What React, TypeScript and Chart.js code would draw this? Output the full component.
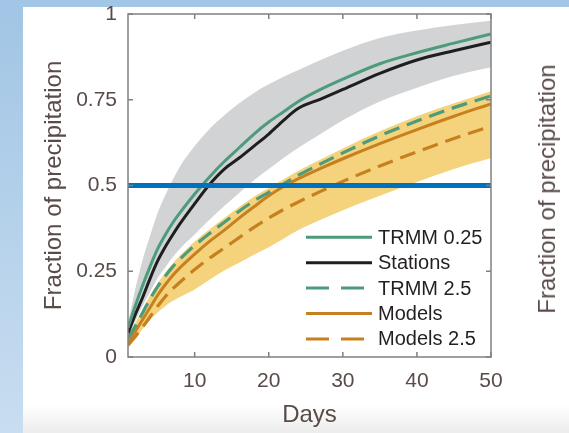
import { useEffect, useRef } from "react";
import { Chart, registerables } from "chart.js";

Chart.register(...registerables);

// ---- data ----
const days = [1, 2, 3, 4, 5, 6, 7, 8, 10, 12, 14, 16, 18, 20, 22, 24, 27, 30, 35, 40, 45, 50];

const trmm025 = [0.085, 0.15, 0.21, 0.265, 0.315, 0.355, 0.39, 0.42, 0.475, 0.525, 0.57, 0.61, 0.65, 0.685, 0.715, 0.745, 0.78, 0.81, 0.855, 0.887, 0.915, 0.942];
const stations = [0.07, 0.125, 0.175, 0.23, 0.28, 0.32, 0.355, 0.388, 0.447, 0.503, 0.548, 0.58, 0.615, 0.65, 0.69, 0.725, 0.752, 0.78, 0.827, 0.866, 0.893, 0.918];
const trmm25 = [0.055, 0.09, 0.13, 0.17, 0.205, 0.235, 0.262, 0.285, 0.325, 0.36, 0.393, 0.425, 0.455, 0.48, 0.505, 0.53, 0.563, 0.595, 0.645, 0.688, 0.727, 0.761];
const models = [0.04, 0.075, 0.11, 0.145, 0.18, 0.21, 0.237, 0.26, 0.3, 0.337, 0.37, 0.405, 0.438, 0.47, 0.497, 0.52, 0.55, 0.578, 0.622, 0.663, 0.702, 0.738];
const models25 = [0.035, 0.06, 0.088, 0.118, 0.148, 0.175, 0.198, 0.218, 0.255, 0.288, 0.318, 0.348, 0.378, 0.405, 0.43, 0.452, 0.483, 0.512, 0.557, 0.598, 0.637, 0.673];

const grayUpper = [0.1, 0.2, 0.285, 0.355, 0.42, 0.47, 0.515, 0.555, 0.615, 0.665, 0.705, 0.74, 0.77, 0.795, 0.817, 0.837, 0.866, 0.893, 0.93, 0.952, 0.968, 0.98];
const grayLower = [0.06, 0.105, 0.15, 0.19, 0.23, 0.26, 0.29, 0.315, 0.357, 0.4, 0.44, 0.478, 0.515, 0.548, 0.58, 0.61, 0.65, 0.69, 0.745, 0.785, 0.82, 0.845];
const yellowUpper = [0.065, 0.1, 0.14, 0.18, 0.215, 0.245, 0.272, 0.296, 0.337, 0.372, 0.405, 0.437, 0.467, 0.493, 0.518, 0.543, 0.576, 0.608, 0.658, 0.702, 0.74, 0.775];
const yellowLower = [0.025, 0.055, 0.082, 0.108, 0.13, 0.148, 0.163, 0.175, 0.197, 0.225, 0.252, 0.275, 0.298, 0.32, 0.345, 0.37, 0.4, 0.428, 0.47, 0.51, 0.548, 0.58];

const thresholdDays = [1, 50];
const thresholdValues = [0.5, 0.5];

const xTickValues = [10, 20, 30, 40, 50];
const yTickValues = [0, 0.25, 0.5, 0.75, 1];
const yTickLabels = ["0", "0.25", "0.5", "0.75", "1"];

const legendLabels = ["TRMM 0.25", "Stations", "TRMM 2.5", "Models", "Models 2.5"];

const xTitle = "Days";
const yTitle = "Fraction of precipitation";

// ---- styles ----
const GREEN = "#4e9b7c";
const BLACK = "#1e1d20";
const ORANGE = "#c7801f";
const YELLOW_FILL = "#f5d37c";
const GRAY_FILL = "#d1d3d5";
const BLUE = "#0072bd";
const TEXT = "#594b48";
const AXIS = "#808080";
const FONT = "'Liberation Sans', Arial, Helvetica, sans-serif";

const legendStyles = [
  { color: GREEN, dash: [] as number[] },
  { color: BLACK, dash: [] as number[] },
  { color: GREEN, dash: [23, 12] },
  { color: ORANGE, dash: [] as number[] },
  { color: ORANGE, dash: [23, 12] },
];

const pts = (ys: number[]) => days.map((d, i) => ({ x: d, y: ys[i] }));

const boxPlugin = {
  id: "boxAndTicks",
  afterDraw(chart: any) {
    const { ctx, chartArea } = chart;
    const { left, right, top, bottom } = chartArea;
    const xs = chart.scales.x;
    const ys = chart.scales.y;
    ctx.save();
    ctx.strokeStyle = AXIS;
    ctx.lineWidth = 1.5;
    ctx.setLineDash([]);
    ctx.strokeRect(left, top, right - left, bottom - top);
    const tl = 5;
    ctx.beginPath();
    xTickValues.forEach((v) => {
      const px = xs.getPixelForValue(v);
      ctx.moveTo(px, bottom);
      ctx.lineTo(px, bottom - tl);
      ctx.moveTo(px, top);
      ctx.lineTo(px, top + tl);
    });
    yTickValues.forEach((v) => {
      const py = ys.getPixelForValue(v);
      ctx.moveTo(left, py);
      ctx.lineTo(left + tl, py);
      ctx.moveTo(right, py);
      ctx.lineTo(right - tl, py);
    });
    ctx.stroke();

    // legend
    const lineStart = right - 185;
    const lineEnd = right - 119;
    const dashEnd = right - 127;
    const textX = right - 113;
    const firstY = bottom - 119.7;
    const rowH = 25.4;
    ctx.font = `20px ${FONT}`;
    ctx.textBaseline = "middle";
    ctx.textAlign = "left";
    legendLabels.forEach((label, i) => {
      const y = firstY + i * rowH;
      const st = legendStyles[i];
      ctx.beginPath();
      ctx.strokeStyle = st.color;
      ctx.lineWidth = 3;
      ctx.setLineDash(st.dash);
      ctx.moveTo(lineStart, y);
      ctx.lineTo(st.dash.length ? dashEnd : lineEnd, y);
      ctx.stroke();
      ctx.setLineDash([]);
      ctx.fillStyle = "#231f20";
      ctx.fillText(label, textX, y + 1);
    });
    ctx.restore();
  },
};

export default function App() {
  const ref = useRef<HTMLCanvasElement>(null);

  useEffect(() => {
    document.body.style.margin = "0";
    const canvas = ref.current;
    if (!canvas) return;
    const line = (data: any[], color: string, dash: number[], width: number, order: number, extra: any = {}) => ({
      data,
      borderColor: color,
      backgroundColor: color,
      borderWidth: width,
      borderDash: dash,
      pointRadius: 0,
      fill: false,
      cubicInterpolationMode: "monotone",
      order,
      ...extra,
    });
    const chart = new Chart(canvas, {
      type: "line",
      data: {
        datasets: [
          line(pts(grayUpper), "rgba(0,0,0,0)", [], 0, 20, { fill: "+1", backgroundColor: GRAY_FILL }),
          line(pts(grayLower), "rgba(0,0,0,0)", [], 0, 21),
          line(pts(yellowUpper), "rgba(0,0,0,0)", [], 0, 22, { fill: "+1", backgroundColor: YELLOW_FILL }),
          line(pts(yellowLower), "rgba(0,0,0,0)", [], 0, 23),
          line(thresholdDays.map((d, i) => ({ x: d, y: thresholdValues[i] })), BLUE, [], 5, 0, { cubicInterpolationMode: "default" }),
          line(pts(trmm025), GREEN, [], 3, 2),
          line(pts(stations), BLACK, [], 3, 3),
          line(pts(trmm25), GREEN, [16, 8], 3.2, 4),
          line(pts(models), ORANGE, [], 3, 5),
          line(pts(models25), ORANGE, [16, 8], 3.2, 6),
        ],
      },
      options: {
        responsive: false,
        animation: false,
        devicePixelRatio: 1,
        layout: { padding: { left: 0, right: 78, top: 14, bottom: 0 } },
        plugins: { legend: { display: false }, tooltip: { enabled: false } },
        scales: {
          x: {
            type: "linear",
            min: 1,
            max: 50,
            grid: { display: false, drawTicks: false },
            border: { display: false },
            afterBuildTicks: (s: any) => {
              s.ticks = xTickValues.map((v) => ({ value: v }));
            },
            afterFit: (s: any) => {
              s.height = 76;
              s.paddingLeft = 0;
              s.paddingRight = 0;
              s.paddingTop = 0;
              s.paddingBottom = 0;
            },
            ticks: {
              color: TEXT,
              font: { family: FONT, size: 21 },
              padding: 12,
              maxRotation: 0,
              callback: (v: any) => String(v),
            },
            title: {
              display: true,
              text: xTitle,
              color: TEXT,
              font: { family: FONT, size: 24 },
              padding: { top: 0, bottom: 3 },
            },
          },
          y: {
            type: "linear",
            min: 0,
            max: 1,
            grid: { display: false, drawTicks: false },
            border: { display: false },
            afterBuildTicks: (s: any) => {
              s.ticks = yTickValues.map((v) => ({ value: v }));
            },
            afterFit: (s: any) => {
              s.width = 128;
              s.paddingLeft = 0;
              s.paddingRight = 0;
              s.paddingTop = 0;
              s.paddingBottom = 0;
            },
            ticks: {
              color: TEXT,
              font: { family: FONT, size: 21 },
              padding: 11,
              callback: (v: any) => {
                const i = yTickValues.indexOf(Number(v));
                return i >= 0 ? yTickLabels[i] : "";
              },
            },
            title: {
              display: true,
              text: yTitle,
              color: TEXT,
              font: { family: FONT, size: 24 },
              padding: { top: 40, bottom: 0 },
            },
          },
        },
      },
      plugins: [boxPlugin],
    } as any);
    return () => chart.destroy();
  }, []);

  return (
    <div style={{ position: "fixed", left: 0, top: 0, width: 569, height: 433, overflow: "hidden", background: "#ffffff" }}>
      <div style={{ position: "absolute", left: 0, top: 405, width: 569, height: 28, background: "linear-gradient(#ffffff, #ececec)" }} />
      <div style={{ position: "absolute", left: 0, top: 0, width: 23, height: 433, background: "linear-gradient(#a1c5e5, #c8ddf0)" }} />
      <div style={{ position: "absolute", left: 0, top: 0, width: 569, height: 7, background: "#a2c6e5" }} />
      <canvas ref={ref} width={569} height={433} style={{ position: "absolute", left: 0, top: 0, width: 569, height: 433 }} />
      <div
        style={{
          position: "absolute",
          left: 547,
          top: 189,
          transform: "translate(-50%, -50%) rotate(-90deg)",
          whiteSpace: "nowrap",
          fontFamily: FONT,
          fontSize: 24,
          lineHeight: "28px",
          color: TEXT,
        }}
      >
        {yTitle}
      </div>
    </div>
  );
}
